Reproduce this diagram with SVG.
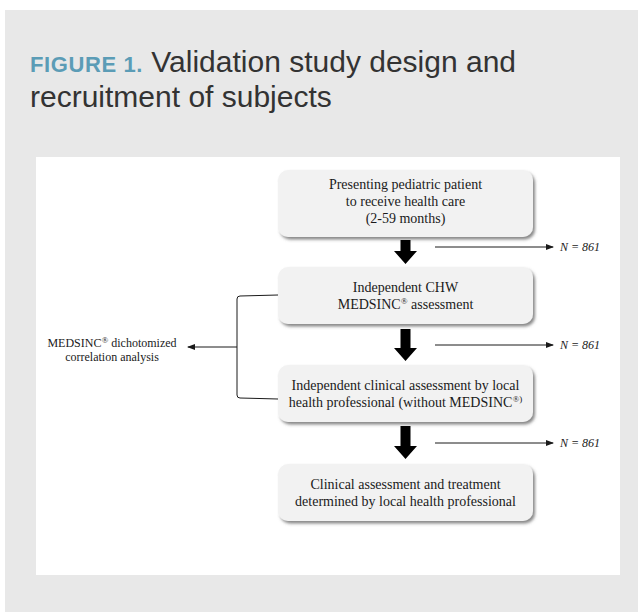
<svg xmlns="http://www.w3.org/2000/svg" width="638" height="612" viewBox="0 0 638 612">
<style>
.title{font-family:"Liberation Sans",Arial,sans-serif;font-size:30px;fill:#333333}
.fig{font-family:"Liberation Sans",Arial,sans-serif;font-size:22px;font-weight:bold;fill:#5b9cb6;letter-spacing:0.6px}
.box{fill:#f2f2f2;filter:url(#sh)}
.bt{font-family:"Liberation Serif","Times New Roman",serif;font-size:14px;fill:#1a1a1a;text-anchor:middle}
.lt{font-family:"Liberation Serif","Times New Roman",serif;font-size:12px;fill:#1a1a1a;text-anchor:middle}
.n{font-family:"Liberation Serif","Times New Roman",serif;font-size:12px;font-style:italic;fill:#1a1a1a}
.thin{stroke:#1a1a1a;stroke-width:1;fill:none}
.big{fill:#000}
.sup{font-size:9px}
</style>
<defs>
<filter id="sh" x="-10%" y="-20%" width="125%" height="150%">
<feDropShadow dx="2" dy="2.5" stdDeviation="1.5" flood-color="#555" flood-opacity="0.7"/>
</filter>
<marker id="ah" markerWidth="8" markerHeight="6" refX="7" refY="3" orient="auto" markerUnits="userSpaceOnUse">
<path d="M0,0 L8,3 L0,6 Z" fill="#1a1a1a"/>
</marker>
</defs>
<rect x="5" y="10" width="633" height="602" fill="#e8e8e8"/>
<text x="30" y="72" class="title"><tspan class="fig">FIGURE 1.</tspan> Validation study design and</text>
<text x="30" y="107" class="title">recruitment of subjects</text>
<rect x="36" y="157" width="584" height="418" fill="#ffffff"/>

<g id="box1">
<rect class="box" x="278" y="170" width="255" height="67" rx="10"/>
<text class="bt" x="405.5" y="189">Presenting pediatric patient</text>
<text class="bt" x="405.5" y="206">to receive health care</text>
<text class="bt" x="405.5" y="223">(2-59 months)</text>
</g>
<g id="box2">
<rect class="box" x="278" y="267" width="255" height="57" rx="10"/>
<text class="bt" x="405.5" y="292">Independent CHW</text>
<text class="bt" x="405.5" y="309">MEDSINC<tspan class="sup" dy="-5">®</tspan><tspan dy="5"> assessment</tspan></text>
</g>
<g id="box3">
<rect class="box" x="278" y="365" width="255" height="57" rx="10"/>
<text class="bt" x="405.5" y="390">Independent clinical assessment by local</text>
<text class="bt" x="405.5" y="407">health professional (without MEDSINC<tspan class="sup" dy="-5">®)</tspan></text>
</g>
<g id="box4">
<rect class="box" x="278" y="464" width="255" height="57" rx="10"/>
<text class="bt" x="405.5" y="489">Clinical assessment and treatment</text>
<text class="bt" x="405.5" y="506">determined by local health professional</text>
</g>
<g id="label-left">
<text class="lt" x="112" y="347">MEDSINC<tspan class="sup" dy="-4">®</tspan><tspan dy="4"> dichotomized</tspan></text>
<text class="lt" x="112" y="361">correlation analysis</text>
</g>
<g id="label-n1"><text class="n" x="560" y="251">N = 861</text></g>
<g id="label-n2"><text class="n" x="560" y="349">N = 861</text></g>
<g id="label-n3"><text class="n" x="560" y="447">N = 861</text></g>

<g id="connectors">
<path class="big" d="M400.5,240 H410.5 V251 H417 L405.5,264 L394,251 H400.5 Z"/>
<path class="big" d="M400.5,329 H410.5 V348 H417 L405.5,361 L394,348 H400.5 Z"/>
<path class="big" d="M400.5,426 H410.5 V446 H417 L405.5,459 L394,446 H400.5 Z"/>
<line class="thin" x1="435" y1="247" x2="553" y2="247" marker-end="url(#ah)"/>
<line class="thin" x1="435" y1="345" x2="553" y2="345" marker-end="url(#ah)"/>
<line class="thin" x1="435" y1="443" x2="553" y2="443" marker-end="url(#ah)"/>
<path class="thin" d="M278,295 L240,296 Q237,296 237,299 V395 Q237,398 240,398 L278,399"/>
<line class="thin" x1="237" y1="347" x2="188" y2="347" marker-end="url(#ah)"/>
</g>
</svg>
